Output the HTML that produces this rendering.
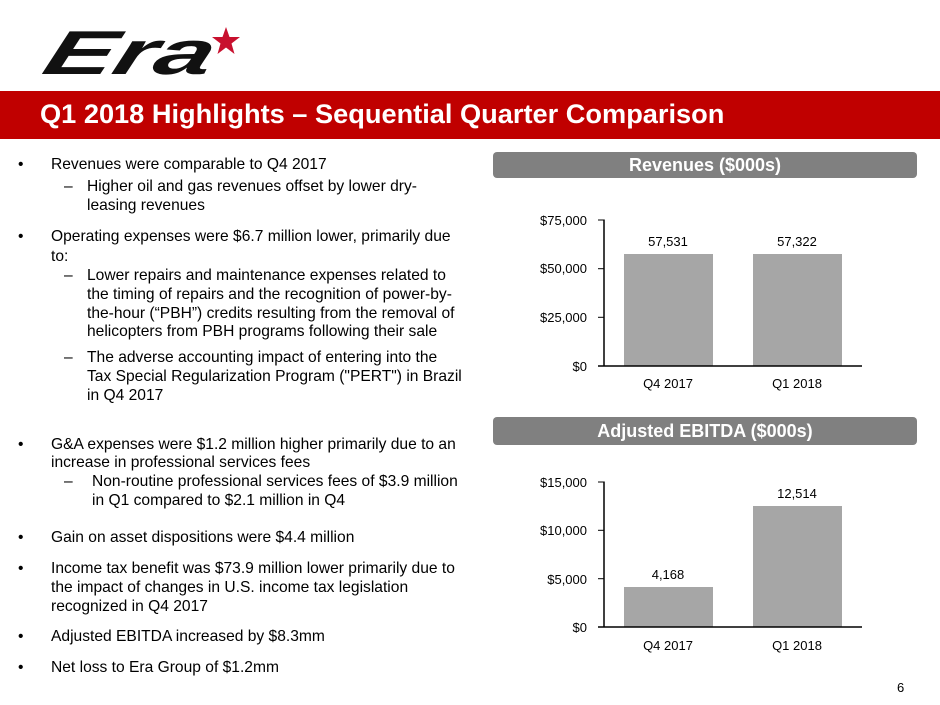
<!DOCTYPE html>
<html>
<head>
<meta charset="utf-8">
<style>
html,body{margin:0;padding:0;background:#fff;}
body{width:940px;height:705px;position:relative;overflow:hidden;font-family:"Liberation Sans",Arial,sans-serif;color:#000;}
.band{position:absolute;left:0;top:91px;width:940px;height:48px;background:#c00000;}
.title{position:absolute;left:40px;top:97px;font-size:27.2px;font-weight:bold;color:#fff;white-space:nowrap;line-height:34px;}
.hdr{position:absolute;left:493px;width:424px;background:#808080;border-radius:4px;color:#fff;font-weight:bold;font-size:18px;text-align:center;}
.ln{position:absolute;white-space:nowrap;font-size:15.6px;line-height:19px;}
.b{position:absolute;left:18px;font-size:15.6px;line-height:19px;}
.d{position:absolute;font-size:15.6px;line-height:19px;}
.pg{position:absolute;left:897px;top:680px;font-size:13px;}
</style>
</head>
<body>
<svg style="position:absolute;left:0;top:0" width="260" height="90">
  <text x="44" y="74" font-family="Liberation Sans" font-weight="bold" font-style="italic" font-size="62" textLength="168" lengthAdjust="spacingAndGlyphs" transform="skewX(-18) translate(20,0)" fill="#111">Era</text>
  <polygon fill="#c8102e" points="226,27 229.5,37 240,37 231.5,43.5 234.5,54 226,47.5 217.5,54 220.5,43.5 212,37 222.5,37"/>
</svg>

<div class="band"></div>
<div class="title">Q1 2018 Highlights – Sequential Quarter Comparison</div>

<div class="hdr" style="top:152px;height:26px;line-height:26px;">Revenues ($000s)</div>
<div class="hdr" style="top:417px;height:28px;line-height:28px;">Adjusted EBITDA ($000s)</div>

<!-- Left text -->
<div class="b" style="top:155px">•</div>
<div class="ln" style="left:51px;top:155px">Revenues were comparable to Q4 2017</div>
<div class="d" style="left:64px;top:177px">–</div>
<div class="ln" style="left:87px;top:177px">Higher oil and gas revenues offset by lower dry-</div>
<div class="ln" style="left:87px;top:196px">leasing revenues</div>

<div class="b" style="top:227px">•</div>
<div class="ln" style="left:51px;top:227px">Operating expenses were $6.7 million lower, primarily due</div>
<div class="ln" style="left:51px;top:247px">to:</div>
<div class="d" style="left:64px;top:266px">–</div>
<div class="ln" style="left:87px;top:266px">Lower repairs and maintenance expenses related to</div>
<div class="ln" style="left:87px;top:285px">the timing of repairs and the recognition of power-by-</div>
<div class="ln" style="left:87px;top:304px">the-hour (“PBH”) credits resulting from the removal of</div>
<div class="ln" style="left:87px;top:322px">helicopters from PBH programs following their sale</div>
<div class="d" style="left:64px;top:348px">–</div>
<div class="ln" style="left:87px;top:348px">The adverse accounting impact of entering into the</div>
<div class="ln" style="left:87px;top:367px">Tax Special Regularization Program ("PERT") in Brazil</div>
<div class="ln" style="left:87px;top:386px">in Q4 2017</div>

<div class="b" style="top:435px">•</div>
<div class="ln" style="left:51px;top:435px">G&amp;A expenses were $1.2 million higher primarily due to an</div>
<div class="ln" style="left:51px;top:453px">increase in professional services fees</div>
<div class="d" style="left:64px;top:472px">–</div>
<div class="ln" style="left:92px;top:472px">Non-routine professional services fees of $3.9 million</div>
<div class="ln" style="left:92px;top:491px">in Q1 compared to $2.1 million in Q4</div>

<div class="b" style="top:528px">•</div>
<div class="ln" style="left:51px;top:528px">Gain on asset dispositions were $4.4 million</div>

<div class="b" style="top:559px">•</div>
<div class="ln" style="left:51px;top:559px">Income tax benefit was $73.9 million lower primarily due to</div>
<div class="ln" style="left:51px;top:578px">the impact of changes in U.S. income tax legislation</div>
<div class="ln" style="left:51px;top:597px">recognized in Q4 2017</div>

<div class="b" style="top:627px">•</div>
<div class="ln" style="left:51px;top:627px">Adjusted EBITDA increased by $8.3mm</div>

<div class="b" style="top:658px">•</div>
<div class="ln" style="left:51px;top:658px">Net loss to Era Group of $1.2mm</div>

<!-- Charts -->
<svg style="position:absolute;left:0;top:0" width="940" height="705" font-family="Liberation Sans, Arial, sans-serif" font-size="13">
  <!-- Revenues -->
  <rect x="624" y="254" width="89" height="112" fill="#a6a6a6"/>
  <rect x="753" y="254" width="89" height="112" fill="#a6a6a6"/>
  <line x1="604" y1="219.5" x2="604" y2="366" stroke="#000" stroke-width="1.5"/>
  <line x1="598" y1="366" x2="862" y2="366" stroke="#000" stroke-width="1.5"/>
  <line x1="598" y1="220" x2="604" y2="220" stroke="#000" stroke-width="1"/>
  <line x1="598" y1="268.7" x2="604" y2="268.7" stroke="#000" stroke-width="1"/>
  <line x1="598" y1="317.3" x2="604" y2="317.3" stroke="#000" stroke-width="1"/>
  <g text-anchor="end">
    <text x="587" y="225">$75,000</text>
    <text x="587" y="273">$50,000</text>
    <text x="587" y="322">$25,000</text>
    <text x="587" y="371">$0</text>
  </g>
  <g text-anchor="middle">
    <text x="668" y="246">57,531</text>
    <text x="797" y="246">57,322</text>
    <text x="668" y="388">Q4 2017</text>
    <text x="797" y="388">Q1 2018</text>
  </g>

  <!-- EBITDA -->
  <rect x="624" y="587" width="89" height="40" fill="#a6a6a6"/>
  <rect x="753" y="506" width="89" height="121" fill="#a6a6a6"/>
  <line x1="604" y1="481.5" x2="604" y2="627" stroke="#000" stroke-width="1.5"/>
  <line x1="598" y1="627" x2="862" y2="627" stroke="#000" stroke-width="1.5"/>
  <line x1="598" y1="482" x2="604" y2="482" stroke="#000" stroke-width="1"/>
  <line x1="598" y1="530.3" x2="604" y2="530.3" stroke="#000" stroke-width="1"/>
  <line x1="598" y1="578.7" x2="604" y2="578.7" stroke="#000" stroke-width="1"/>
  <g text-anchor="end">
    <text x="587" y="487">$15,000</text>
    <text x="587" y="535">$10,000</text>
    <text x="587" y="584">$5,000</text>
    <text x="587" y="632">$0</text>
  </g>
  <g text-anchor="middle">
    <text x="668" y="579">4,168</text>
    <text x="797" y="498">12,514</text>
    <text x="668" y="650">Q4 2017</text>
    <text x="797" y="650">Q1 2018</text>
  </g>
</svg>

<div class="pg">6</div>
</body>
</html>
